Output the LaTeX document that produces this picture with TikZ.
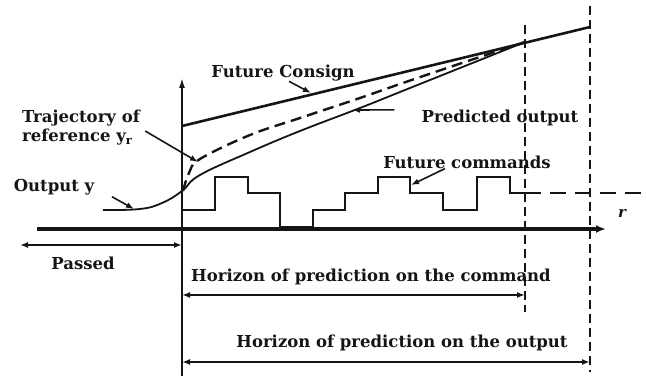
\documentclass[tikz,border=0pt]{standalone}
\usepackage{fontspec}
\setmainfont{DejaVu Serif}
\usetikzlibrary{arrows.meta}
\newcommand{\AxisX}{182}
\newcommand{\AxisY}{229}
\newcommand{\HorCmd}{525}
\newcommand{\HorOut}{590}
\definecolor{Ink}{HTML}{151515}

\begin{document}
\begin{tikzpicture}[x=1pt,y=-1pt,
  lbl/.style={font=\bfseries\fontsize{16.5}{19}\selectfont,inner sep=0pt,text=Ink},
  pointer/.style={draw=Ink,line width=1.6pt,-{Latex[length=8pt,width=6pt]}},
  span/.style={draw=Ink,line width=1.8pt,{Latex[length=8pt,width=6pt]}-{Latex[length=8pt,width=6pt]}},
  horizon/.style={draw=Ink,line width=1.7pt,dash pattern=on 9pt off 5pt}]

  \useasboundingbox (0,0) rectangle (646,379);

  \coordinate (vbot) at (\AxisX,376);
  \coordinate (vtop) at (\AxisX,78);
  \coordinate (hl) at (37,\AxisY);
  \coordinate (hr) at (606,\AxisY);

  \draw[Ink,line width=1.7pt,-{Latex[length=10pt,width=6pt]}] (vbot) -- (vtop);
  \draw[Ink,line width=3.2pt,-{Latex[length=10pt,width=8pt]}] (hl) -- (hr);

  \draw[horizon] (\HorCmd,25) -- (\HorCmd,312);
  \draw[horizon] (\HorOut,6) -- (\HorOut,372);

  \coordinate (cstart) at (\AxisX,126);
  \coordinate (cend) at (\HorOut,27);
  \draw[Ink,line width=2.6pt] (cstart) -- (cend);

  \draw[Ink,line width=2.4pt,dash pattern=on 11pt off 6pt]
    plot[smooth,tension=0.6] coordinates {(183,191) (189,173) (200,159) (250,135)
      (300,118) (360,98) (400,84) (450,67) (\HorCmd,42)};

  \draw[Ink,line width=1.8pt]
    plot[smooth,tension=0.7] coordinates {(103,210) (140,209) (162,203) (\AxisX,191)
      (200,175) (250,152) (300,131) (360,108) (400,92) (450,72) (\HorCmd,42)};

  \draw[Ink,line width=2.6pt]
    (\AxisX,210) -| (215,177) -| (248,193) -| (280,227) -| (313,210)
    -| (345,193) -| (378,177) -| (410,193) -| (443,210) -| (477,177)
    -| (510,193) -- (\HorCmd,193);
  \draw[Ink,line width=2.8pt,dash pattern=on 16pt off 9pt]
    (\HorCmd,193) -- (646,193);

  \node[lbl] (consign) at (283,73) {Future Consign};
  \node[lbl,align=left] (traj) at (81,128) {Trajectory of\\reference y\textsubscript{r}};
  \node[lbl] (outlbl) at (54,187) {Output y};
  \node[lbl] (predlbl) at (500,118) {Predicted output};
  \node[lbl] (cmdlbl) at (467,162) {Future commands};
  \node[lbl,font=\bfseries\itshape\fontsize{15}{17}\selectfont] (rlbl) at (622,214) {r};
  \node[lbl] (passed) at (83,263) {Passed};
  \node[lbl] (hcmd) at (371,277) {Horizon of prediction on the command};
  \node[lbl] (hout) at (402,343) {Horizon of prediction on the output};

  \coordinate (chead) at (311,93);
  \coordinate (thead) at (198,162);
  \coordinate (ohead) at (134,209);
  \coordinate (phead) at (352,110);
  \coordinate (fhead) at (411,185);

  \draw[pointer] ([xshift=6pt]consign.south) -- (chead);
  \draw[pointer,shorten <=6pt] (traj.east) -- (thead);
  \draw[pointer,shorten <=20pt] (outlbl.east) -- (ohead);
  \draw[pointer,shorten <=27pt] (predlbl.north west) -- (phead);
  \draw[pointer] ([xshift=-22pt]cmdlbl.south) -- (fhead);

  \coordinate (pl) at (20,245);
  \coordinate (pr) at (\AxisX,245);
  \coordinate (cl) at (\AxisX,295);
  \coordinate (cr) at (\HorCmd,295);
  \coordinate (ol) at (\AxisX,362);
  \coordinate (or) at (\HorOut,362);
  \draw[span] (pl) -- (pr);
  \draw[span] (cl) -- (cr);
  \draw[span] (ol) -- (or);

\end{tikzpicture}
\end{document}
